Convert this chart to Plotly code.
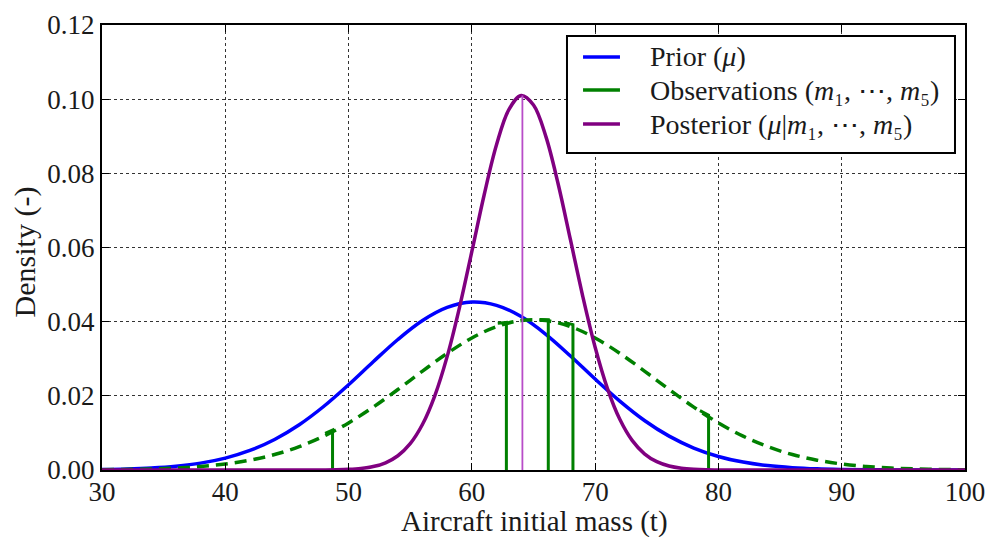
import plotly.graph_objects as go

# ---- data ----
x_grid = [30, 32, 34, 36, 38, 40, 42, 44, 46, 48, 50, 52, 54, 56, 58, 60, 62, 64,
          66, 68, 70, 72, 74, 76, 78, 80, 82, 84, 86, 88, 90, 92, 94, 96, 98, 100]

prior_density = [0.00012, 0.00026, 0.00053, 0.00102, 0.00185, 0.00321, 0.00528, 0.00824,
                 0.01221, 0.01719, 0.02299, 0.02919, 0.03520, 0.04031, 0.04384, 0.04530,
                 0.04441, 0.04137, 0.03659, 0.03074, 0.02452, 0.01858, 0.01336, 0.00913,
                 0.00593, 0.00365, 0.00214, 0.00119, 0.00063, 0.00031, 0.00015, 0.00007,
                 0.00003, 0.00001, 0.0, 0.0]

obs_density = [0.00007, 0.00015, 0.00029, 0.00053, 0.00095, 0.00162, 0.00265, 0.00417,
               0.00630, 0.00913, 0.01270, 0.01695, 0.02171, 0.02668, 0.03146, 0.03560,
               0.03867, 0.04029, 0.04029, 0.03867, 0.03560, 0.03146, 0.02668, 0.02171,
               0.01695, 0.01270, 0.00913, 0.00630, 0.00417, 0.00265, 0.00162, 0.00095,
               0.00053, 0.00029, 0.00015, 0.00007]

post_x = [30, 36, 40, 44, 45, 46, 47, 48, 49, 50, 51, 52, 53, 54, 55, 56, 57, 58, 59,
          60, 61, 62, 63, 64, 65, 66, 67, 68, 69, 70, 71, 72, 73, 74, 75, 76, 77, 78,
          79, 80, 81, 82, 83, 84, 88, 92, 96, 100]
posterior_density = [0.0, 0.0, 0.0, 0.0, 0.000001, 0.000003, 0.000009, 0.000025, 0.000068,
                     0.000173, 0.000413, 0.000925, 0.001947, 0.00384, 0.00710, 0.01233,
                     0.02008, 0.03064, 0.04388, 0.05893, 0.07423, 0.08769, 0.09716, 0.10100,
                     0.09841, 0.08996, 0.07713, 0.06203, 0.04678, 0.03310, 0.02196, 0.01367,
                     0.00798, 0.00437, 0.00224, 0.00108, 0.00049, 0.00021, 0.00008, 0.00003,
                     0.00001, 0.0, 0.0, 0.0, 0.0, 0.0, 0.0, 0.0]

obs_masses = [48.7, 62.8, 66.2, 68.2, 79.2]
obs_tops = [0.0108, 0.0398, 0.0405, 0.0392, 0.0148]
obs_stub_x = [48.1, 62.1, 65.5, 67.5, 78.5]
obs_stub_y = [0.0099, 0.0396, 0.0406, 0.0398, 0.0160]

posterior_mean = 64.1
posterior_peak = 0.101

x_ticks = [30, 40, 50, 60, 70, 80, 90, 100]
y_ticks = [0.00, 0.02, 0.04, 0.06, 0.08, 0.10, 0.12]

legend_labels = ["Prior (<i>μ</i>)",
                 "Observations (<i>m</i>₁, ⋯, <i>m</i>₅)",
                 "Posterior (<i>μ</i>|<i>m</i>₁, ⋯, <i>m</i>₅)"]

BLUE = "#0000ff"
GREEN = "#008000"
PURPLE = "#800080"
FONT = "Liberation Serif"
TXT = "#1a1a1a"

fig = go.Figure()

fig.add_trace(go.Scatter(x=x_grid, y=prior_density, mode="lines",
                         line=dict(color=BLUE, width=3.5, shape="spline"),
                         name="Prior (μ)", showlegend=False))

fig.add_trace(go.Scatter(x=x_grid, y=obs_density, mode="lines",
                         line=dict(color=GREEN, width=3.5, dash="12px,7px", shape="spline"),
                         showlegend=False, hoverinfo="skip"))

for i, (m, top, sx, sy) in enumerate(zip(obs_masses, obs_tops, obs_stub_x, obs_stub_y)):
    fig.add_trace(go.Scatter(x=[sx, m, m], y=[sy, top, 0], mode="lines",
                             line=dict(color=GREEN, width=3),
                             name="Observations", showlegend=False))

fig.add_trace(go.Scatter(x=post_x, y=posterior_density, mode="lines",
                         line=dict(color=PURPLE, width=3.5, shape="spline"),
                         name="Posterior", showlegend=False))

fig.add_trace(go.Scatter(x=[posterior_mean, posterior_mean], y=[0, posterior_peak], mode="lines",
                         line=dict(color="#b84cc8", width=1.8),
                         showlegend=False, hoverinfo="skip"))

# ---- legend box drawn in paper coordinates ----
shapes = [dict(type="rect", xref="paper", yref="paper", x0=0.5388, x1=0.9884, y0=0.7124, y1=0.9753,
               line=dict(color="black", width=2), fillcolor="white", layer="above")]
annotations = []
row_y = [0.9281, 0.8539, 0.7775]
for label, color, yy in zip(legend_labels, [BLUE, GREEN, PURPLE], row_y):
    shapes.append(dict(type="line", xref="paper", yref="paper", x0=0.5574, x1=0.6002, y0=yy, y1=yy,
                       line=dict(color=color, width=3.5), layer="above"))
    annotations.append(dict(text=label, xref="paper", yref="paper", x=0.6327, y=yy,
                            xanchor="left", yanchor="middle", showarrow=False,
                            font=dict(family=FONT, size=28, color=TXT)))

annotations.append(dict(text="Aircraft initial mass (t)", xref="paper", yref="paper",
                        x=0.5006, y=-0.1160, xanchor="center", yanchor="middle", showarrow=False,
                        font=dict(family=FONT, size=29, color=TXT)))
annotations.append(dict(text="Density (-)", xref="paper", yref="paper", textangle=-90,
                        x=-0.0892, y=0.489, xanchor="center", yanchor="middle", showarrow=False,
                        font=dict(family=FONT, size=30, color=TXT)))

axis_common = dict(
    showline=True, linecolor="black", linewidth=2, mirror="allticks",
    ticks="inside", ticklen=7, tickwidth=1.2, tickcolor="black",
    showgrid=True, gridcolor="#333333", griddash="dot", gridwidth=1,
    zeroline=False, automargin=False,
    tickfont=dict(family=FONT, size=27, color=TXT),
)

fig.update_layout(
    width=986, height=537,
    paper_bgcolor="white", plot_bgcolor="white",
    margin=dict(l=102, r=21, t=25, b=67),
    font=dict(family=FONT, color=TXT),
    xaxis=dict(range=[30, 100], tickvals=x_ticks, ticktext=[str(v) for v in x_ticks],
               ticklabelstandoff=-3, **axis_common),
    yaxis=dict(range=[0, 0.12], tickvals=y_ticks, ticktext=[f"{v:.2f}" for v in y_ticks],
               **axis_common),
    shapes=shapes,
    annotations=annotations,
    showlegend=False,
)

fig.write_html("out.html", config={"displayModeBar": False},
               post_script="document.body.style.margin='0px';document.body.style.overflow='hidden';")
